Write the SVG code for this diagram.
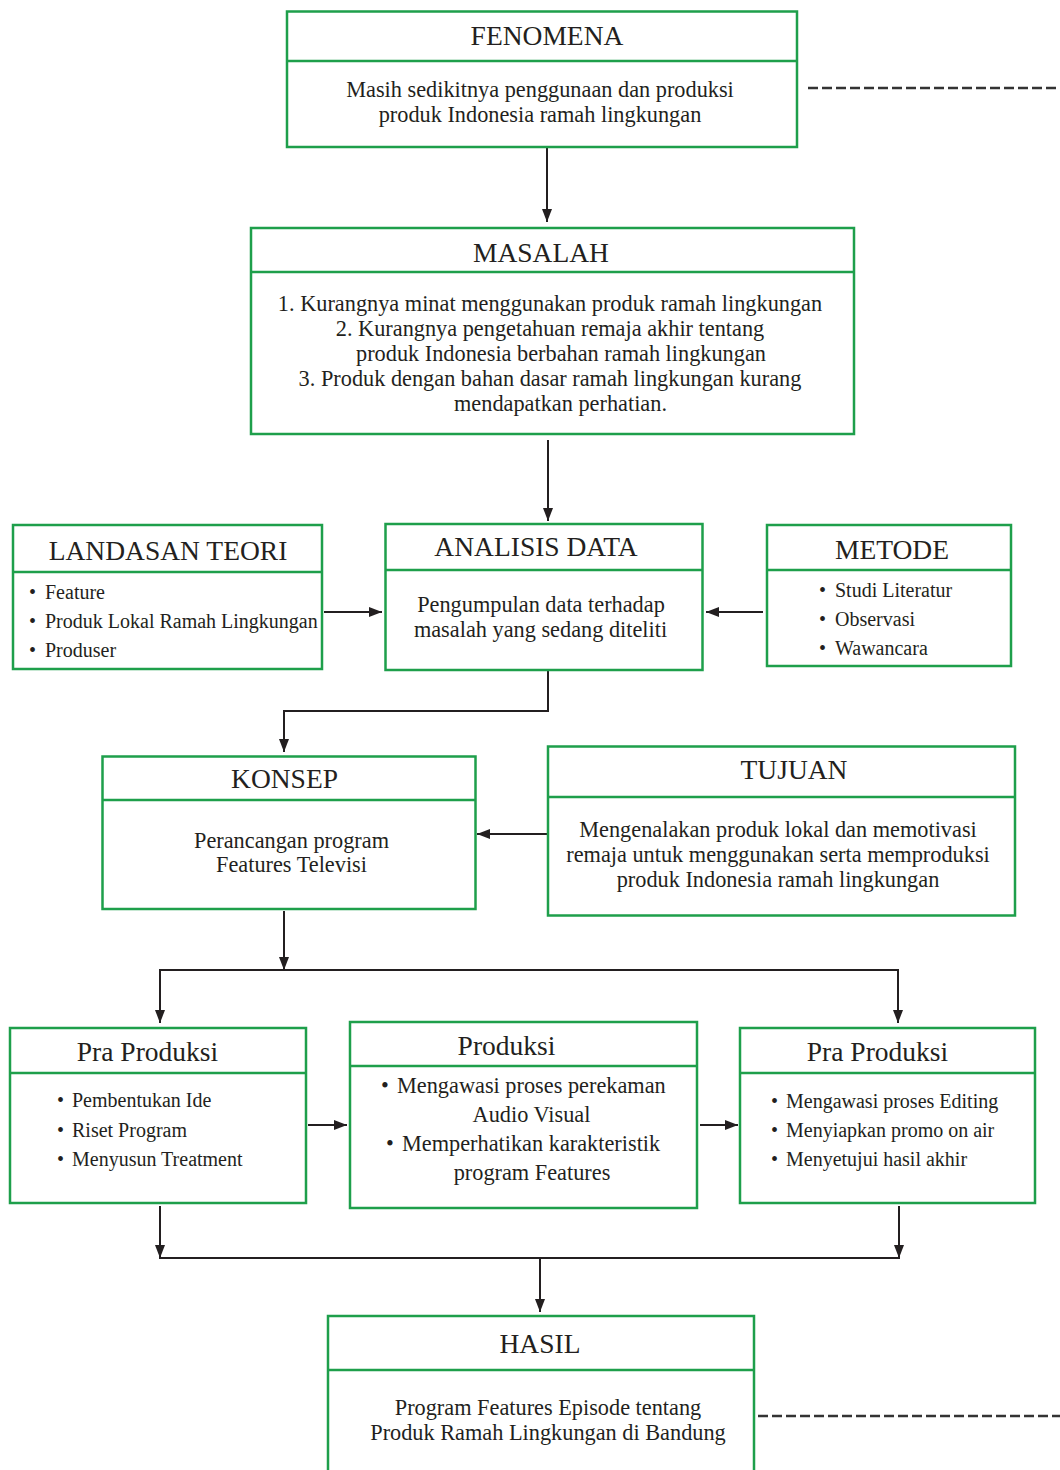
<svg xmlns="http://www.w3.org/2000/svg" width="1060" height="1470" viewBox="0 0 1060 1470">
<defs>
<marker id="arr" markerUnits="userSpaceOnUse" markerWidth="13" markerHeight="10" refX="13" refY="5" orient="auto">
<path d="M0,0 L13,5 L0,10 z" fill="#231f20"/>
</marker>
<style>
.box{fill:#fff;stroke:#1e9f4b;stroke-width:2.5}
.div{stroke:#1e9f4b;stroke-width:2.5}
.t{font-family:"Liberation Serif","Times New Roman",serif;fill:#231f20}
.h{font-size:27.5px;text-anchor:middle}
.b{font-size:22.3px;text-anchor:middle}
.s{font-size:20px}
.p{font-size:22.3px}
.c{fill:none;stroke:#231f20;stroke-width:2}
.a{marker-end:url(#arr)}
.d{fill:none;stroke:#333;stroke-width:2.5;stroke-dasharray:10 4}
</style>
</defs>
<rect width="1060" height="1470" fill="#fff"/>

<g id="connectors">
<line class="c a" x1="547" y1="148" x2="547" y2="222"/>
<line class="c a" x1="548" y1="440" x2="548" y2="521"/>
<line class="c a" x1="324" y1="612" x2="382" y2="612"/>
<line class="c a" x1="763" y1="612" x2="706" y2="612"/>
<polyline class="c a" points="548,670 548,711 284,711 284,752"/>
<line class="c a" x1="547" y1="834" x2="477" y2="834"/>
<line class="c a" x1="284" y1="911" x2="284" y2="970"/>
<line class="c" x1="159" y1="970" x2="899" y2="970"/>
<line class="c a" x1="160" y1="970" x2="160" y2="1023"/>
<line class="c a" x1="898" y1="970" x2="898" y2="1023"/>
<line class="c a" x1="308" y1="1125" x2="347" y2="1125"/>
<line class="c a" x1="700" y1="1125" x2="738" y2="1125"/>
<line class="c a" x1="160" y1="1206" x2="160" y2="1258"/>
<line class="c a" x1="899" y1="1206" x2="899" y2="1258"/>
<line class="c" x1="159" y1="1258" x2="900" y2="1258"/>
<line class="c a" x1="540" y1="1258" x2="540" y2="1312"/>
<line class="d" x1="808" y1="88" x2="1060" y2="88"/>
<line class="d" x1="758" y1="1416" x2="1060" y2="1416"/>
</g>

<g id="fenomena">
<rect class="box" x="287" y="11.5" width="510" height="135.5"/>
<line class="div" x1="287" y1="61" x2="797" y2="61"/>
<text class="t h" x="547" y="45">FENOMENA</text>
<text class="t b" x="540" y="97">Masih sedikitnya penggunaan dan produksi</text>
<text class="t b" x="540" y="122">produk Indonesia ramah lingkungan</text>
</g>

<g id="masalah">
<rect class="box" x="251" y="228" width="603" height="206"/>
<line class="div" x1="251" y1="272" x2="854" y2="272"/>
<text class="t h" x="541" y="262">MASALAH</text>
<text class="t b" x="550" y="311">1. Kurangnya minat menggunakan produk ramah lingkungan</text>
<text class="t b" x="550" y="336">2. Kurangnya pengetahuan remaja akhir tentang</text>
<text class="t b" x="561" y="361">produk Indonesia berbahan ramah lingkungan</text>
<text class="t b" x="550" y="386">3. Produk dengan bahan dasar ramah lingkungan kurang</text>
<text class="t b" x="560.5" y="411">mendapatkan perhatian.</text>
</g>

<g id="landasan-teori">
<rect class="box" x="13" y="525" width="309" height="144"/>
<line class="div" x1="13" y1="572" x2="322" y2="572"/>
<text class="t h" x="168" y="560">LANDASAN TEORI</text>
<text class="t s" y="599"><tspan x="29">•</tspan><tspan x="45">Feature</tspan></text>
<text class="t s" y="628"><tspan x="29">•</tspan><tspan x="45">Produk Lokal Ramah Lingkungan</tspan></text>
<text class="t s" y="657"><tspan x="29">•</tspan><tspan x="45">Produser</tspan></text>
</g>

<g id="analisis-data">
<rect class="box" x="385.5" y="524" width="317" height="146"/>
<line class="div" x1="385.5" y1="570" x2="702.5" y2="570"/>
<text class="t h" x="536" y="556">ANALISIS DATA</text>
<text class="t b" x="541" y="612">Pengumpulan data terhadap</text>
<text class="t b" x="540.5" y="637">masalah yang sedang diteliti</text>
</g>

<g id="metode">
<rect class="box" x="767" y="525" width="244" height="141"/>
<line class="div" x1="767" y1="570" x2="1011" y2="570"/>
<text class="t h" x="892" y="559">METODE</text>
<text class="t s" y="597"><tspan x="819">•</tspan><tspan x="835">Studi Literatur</tspan></text>
<text class="t s" y="626"><tspan x="819">•</tspan><tspan x="835">Observasi</tspan></text>
<text class="t s" y="655"><tspan x="819">•</tspan><tspan x="835">Wawancara</tspan></text>
</g>

<g id="konsep">
<rect class="box" x="102.5" y="756.5" width="373" height="152.5"/>
<line class="div" x1="102.5" y1="800" x2="475.5" y2="800"/>
<text class="t h" x="284.5" y="788">KONSEP</text>
<text class="t b" x="291.5" y="848">Perancangan program</text>
<text class="t b" x="291.5" y="872">Features Televisi</text>
</g>

<g id="tujuan">
<rect class="box" x="548" y="746.5" width="467" height="169"/>
<line class="div" x1="548" y1="797" x2="1015" y2="797"/>
<text class="t h" x="794" y="779">TUJUAN</text>
<text class="t b" x="778" y="837">Mengenalakan produk lokal dan memotivasi</text>
<text class="t b" x="778" y="862">remaja untuk menggunakan serta memproduksi</text>
<text class="t b" x="778" y="887">produk Indonesia ramah lingkungan</text>
</g>

<g id="pra-produksi-1">
<rect class="box" x="10" y="1028" width="296" height="175"/>
<line class="div" x1="10" y1="1073" x2="306" y2="1073"/>
<text class="t h" x="147.5" y="1061">Pra Produksi</text>
<text class="t s" y="1107"><tspan x="57">•</tspan><tspan x="72">Pembentukan Ide</tspan></text>
<text class="t s" y="1137"><tspan x="57">•</tspan><tspan x="72">Riset Program</tspan></text>
<text class="t s" y="1166"><tspan x="57">•</tspan><tspan x="72">Menyusun Treatment</tspan></text>
</g>

<g id="produksi">
<rect class="box" x="350" y="1022" width="347" height="186"/>
<line class="div" x1="350" y1="1066" x2="697" y2="1066"/>
<text class="t h" x="506.5" y="1055">Produksi</text>
<text class="t p" y="1093"><tspan x="381">•</tspan><tspan x="397">Mengawasi proses perekaman</tspan></text>
<text class="t b" x="531.5" y="1122">Audio Visual</text>
<text class="t p" y="1151"><tspan x="386">•</tspan><tspan x="402">Memperhatikan karakteristik</tspan></text>
<text class="t b" x="532" y="1180">program Features</text>
</g>

<g id="pra-produksi-2">
<rect class="box" x="740" y="1028" width="295" height="175"/>
<line class="div" x1="740" y1="1073" x2="1035" y2="1073"/>
<text class="t h" x="877.5" y="1061">Pra Produksi</text>
<text class="t s" y="1108"><tspan x="771">•</tspan><tspan x="786">Mengawasi proses Editing</tspan></text>
<text class="t s" y="1137"><tspan x="771">•</tspan><tspan x="786">Menyiapkan promo on air</tspan></text>
<text class="t s" y="1166"><tspan x="771">•</tspan><tspan x="786">Menyetujui hasil akhir</tspan></text>
</g>

<g id="hasil">
<rect class="box" x="328" y="1316" width="426" height="170"/>
<line class="div" x1="328" y1="1370" x2="754" y2="1370"/>
<text class="t h" x="540" y="1353">HASIL</text>
<text class="t b" x="548" y="1415">Program Features Episode tentang</text>
<text class="t b" x="548" y="1440">Produk Ramah Lingkungan di Bandung</text>
</g>
</svg>
